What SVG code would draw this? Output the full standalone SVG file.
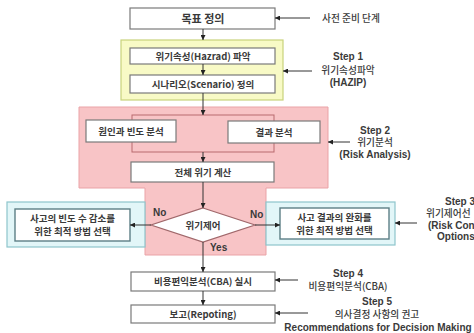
<svg xmlns="http://www.w3.org/2000/svg" width="474" height="333" viewBox="0 0 474 333">
<defs>
<style>
.box{fill:#fff;stroke:#7a7a7a;stroke-width:1.2}
.cbox{fill:#fff;stroke:#5d7f86;stroke-width:1.4}
.t{font-family:"Noto Sans CJK KR","Noto Sans",sans-serif;font-size:9.5px;font-weight:bold;fill:#3a3a3a;text-anchor:middle}
.s{font-family:"Liberation Sans","Noto Sans CJK KR",sans-serif;font-size:10px;font-weight:bold;fill:#3a3a3a;text-anchor:middle}
.k{font-family:"Noto Sans CJK KR",sans-serif;font-size:9.7px;font-weight:500;fill:#3a3a3a;text-anchor:middle}
.l{fill:none;stroke:#333;stroke-width:1}
</style>
<marker id="ah" viewBox="0 0 6 6" refX="6" refY="3" markerWidth="5" markerHeight="5" orient="auto">
<path d="M0,0 L6,3 L0,6 Z" fill="#222"/>
</marker>
</defs>
<rect width="474" height="333" fill="#fff"/>
<g id="regions">
<rect x="121" y="40" width="162" height="60" fill="#f8fac6" stroke="#c9d27c" stroke-width="1.2"/>
<path d="M79,107 H328 V188 H266 V255 H145 V188 H79 Z" fill="#f8c4c6" stroke="#eaa3a7" stroke-width="1"/>
<rect x="7" y="202" width="138" height="45" fill="#e2f6f8" stroke="#8ec5cc" stroke-width="1.2"/>
<rect x="266" y="202" width="129" height="43" fill="#e2f6f8" stroke="#8ec5cc" stroke-width="1.2"/>
<rect x="132" y="115" width="142" height="37" fill="none" stroke="#b86a6e" stroke-width="1"/>
</g>
<g id="n_goal"><rect class="box" x="130" y="8" width="145" height="21"/><text class="t" x="203" y="22.5" style="font-size:11px">목표 정의</text></g>
<g id="n_hazard"><rect class="box" x="130" y="48" width="145" height="16"/><text class="t" x="203" y="59.5">위기속성(Hazrad) 파악</text></g>
<g id="n_scenario"><rect class="box" x="130" y="75" width="145" height="18"/><text class="t" x="203" y="87.5">시나리오(Scenario) 정의</text></g>
<g id="n_cause"><rect class="box" x="86" y="120" width="90" height="22"/><text class="t" x="131" y="134.5">원인과 빈도 분석</text></g>
<g id="n_result"><rect class="box" x="228" y="121" width="92" height="22"/><text class="t" x="274" y="135.5">결과 분석</text></g>
<g id="n_total"><rect class="box" x="131" y="162" width="143" height="20"/><text class="t" x="203" y="175.5">전체 위기 계산</text></g>
<g id="n_control"><path d="M203,208 L255,225 L203,242 L151,225 Z" fill="#fff" stroke="#a0686b" stroke-width="1.2"/><text class="t" x="203" y="228.5">위기제어</text></g>
<g id="n_freq"><rect class="cbox" x="15" y="209" width="115" height="32"/><text class="t" x="72.5" y="222">사고의 빈도 수 감소를</text><text class="t" x="72.5" y="235">위한 최적 방법 선택</text></g>
<g id="n_mitig"><rect class="cbox" x="280" y="208" width="109" height="31"/><text class="t" x="334.5" y="221">사고 결과의 완화를</text><text class="t" x="334.5" y="234">위한 최적 방법 선택</text></g>
<g id="n_cba"><rect class="box" x="131" y="272" width="144" height="19"/><text class="t" x="203" y="285">비용편익분석(CBA) 실시</text></g>
<g id="n_report"><rect class="box" x="131" y="305" width="144" height="18"/><text class="t" x="203" y="317.5">보고(Repoting)</text></g>
<g id="labels">
<text class="k" x="351" y="21.5">사전 준비 단계</text>
<text class="s" x="348" y="59.5">Step 1</text>
<text class="k" x="348" y="74">위기속성파악</text>
<text class="s" x="348" y="86">(HAZIP)</text>
<text class="s" x="375" y="133.5">Step 2</text>
<text class="k" x="375" y="146">위기분석</text>
<text class="s" x="375" y="158">(Risk Analysis)</text>
<text class="s" x="445" y="204.5" style="text-anchor:start">Step 3</text>
<text class="k" x="426" y="217" style="text-anchor:start">위기제어선</text>
<text class="s" x="428" y="229" style="text-anchor:start">(Risk Con</text>
<text class="s" x="437" y="240" style="text-anchor:start">Options</text>
<text class="s" x="348" y="276.5">Step 4</text>
<text class="k" x="348" y="290">비용편익분석(CBA)</text>
<text class="s" x="377" y="304.5">Step 5</text>
<text class="k" x="377" y="318">의사결정 사항의 권고</text>
<text class="s" x="378" y="330.5">Recommendations for Decision Making</text>
<text class="s" x="153" y="216" style="text-anchor:start">No</text>
<text class="s" x="250" y="218" style="text-anchor:start">No</text>
<text class="s" x="210" y="251" style="text-anchor:start">Yes</text>
</g>
<g id="connectors">
<line class="l" x1="203" y1="29" x2="203" y2="40" marker-end="url(#ah)"/>
<line class="l" x1="203" y1="64" x2="203" y2="75" marker-end="url(#ah)"/>
<line class="l" x1="203" y1="93" x2="203" y2="115" marker-end="url(#ah)"/>
<line class="l" x1="203" y1="152" x2="203" y2="162" marker-end="url(#ah)"/>
<line class="l" x1="203" y1="182" x2="203" y2="208" marker-end="url(#ah)"/>
<line class="l" x1="151" y1="225" x2="130" y2="225" marker-end="url(#ah)"/>
<line class="l" x1="255" y1="225" x2="280" y2="225" marker-end="url(#ah)"/>
<line class="l" x1="203" y1="242" x2="203" y2="272" marker-end="url(#ah)"/>
<line class="l" x1="203" y1="291" x2="203" y2="305" marker-end="url(#ah)"/>
<line class="l" x1="310" y1="18" x2="275" y2="18" marker-end="url(#ah)"/>
<line class="l" x1="312" y1="71" x2="283" y2="71" marker-end="url(#ah)"/>
<line class="l" x1="350" y1="142" x2="328" y2="142" marker-end="url(#ah)"/>
<line class="l" x1="417" y1="223" x2="395" y2="223" marker-end="url(#ah)"/>
<line class="l" x1="298" y1="280" x2="275" y2="280" marker-end="url(#ah)"/>
<line class="l" x1="308" y1="313" x2="275" y2="313" marker-end="url(#ah)"/>
</g>
</svg>
